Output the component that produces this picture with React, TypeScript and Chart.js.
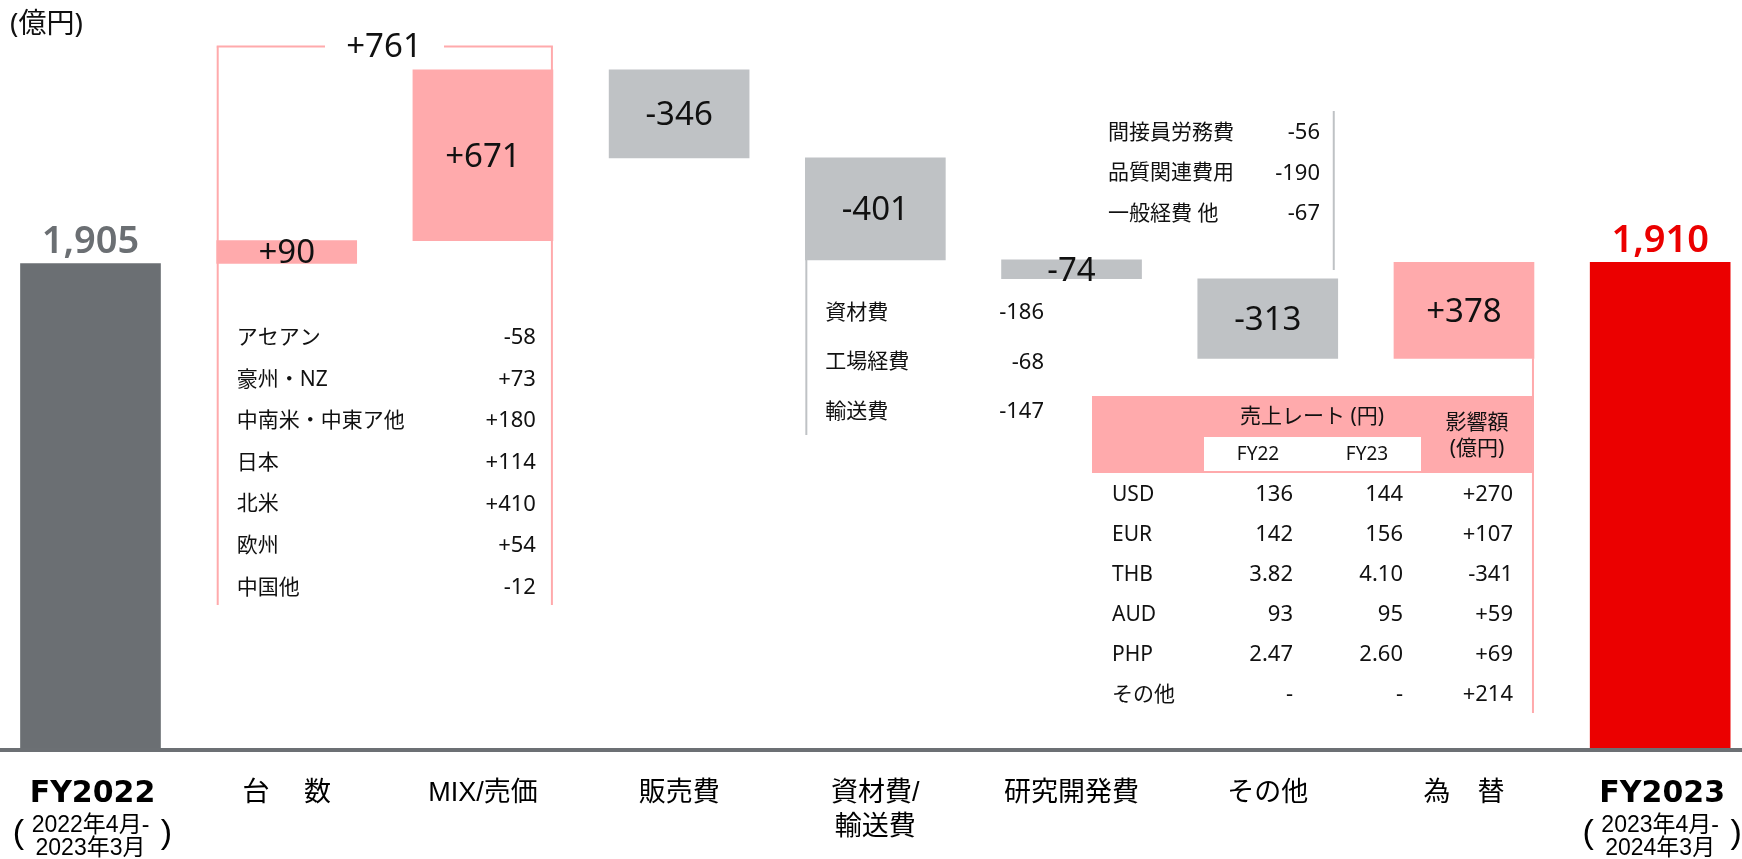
import { useEffect, useRef } from 'react';
import { Chart, registerables } from 'chart.js';

Chart.register(...registerables);

// ---- data ----
const categories = ['FY2022', '台　 数', 'MIX/売価', '販売費', '資材費/\n輸送費', '研究開発費', 'その他', '為　替', 'FY2023'];
const periodLabels = ['2022年4月-\n2023年3月', '', '', '', '', '', '', '', '2023年4月-\n2024年3月'];
const changes = [1905, 90, 671, -346, -401, -74, -313, 378, 1910];
const isTotal = [true, false, false, false, false, false, false, false, true];
const valueLabels = ['1,905', '+90', '+671', '-346', '-401', '-74', '-313', '+378', '1,910'];
const volumeMixTotal = '+761';

const volumeItems = ['アセアン', '豪州・NZ', '中南米・中東ア他', '日本', '北米', '欧州', '中国他'];
const volumeValues = ['-58', '+73', '+180', '+114', '+410', '+54', '-12'];

const materialItems = ['資材費', '工場経費', '輸送費'];
const materialValues = ['-186', '-68', '-147'];

const otherItems = ['間接員労務費', '品質関連費用', '一般経費 他'];
const otherValues = ['-56', '-190', '-67'];

const fxCurrencies = ['USD', 'EUR', 'THB', 'AUD', 'PHP', 'その他'];
const fxRateFY22 = ['136', '142', '3.82', '93', '2.47', '-'];
const fxRateFY23 = ['144', '156', '4.10', '95', '2.60', '-'];
const fxImpact = ['+270', '+107', '-341', '+59', '+69', '+214'];

// ---- styles ----
const C_TOTAL_START = '#6b6f73';
const C_TOTAL_END = '#eb0000';
const C_POS = '#ffaaac';
const C_NEG = '#bfc2c5';
const SANS = '"Noto Sans", "Noto Sans CJK JP", sans-serif';
const NARROW = '"Liberation Sans Narrow", "Liberation Sans", "Noto Sans CJK JP", sans-serif';
const TXT = '#111111';

function buildRanges(): number[][] {
  let run = 0;
  return changes.map((v, i) => {
    if (isTotal[i]) {
      run = v;
      return [0, v];
    }
    const lo = run;
    run += v;
    return [Math.min(lo, run), Math.max(lo, run)];
  });
}

function barColor(i: number): string {
  if (isTotal[i]) return i === 0 ? C_TOTAL_START : C_TOTAL_END;
  return changes[i] >= 0 ? C_POS : C_NEG;
}

function text(ctx: CanvasRenderingContext2D, s: string, x: number, y: number, font: string, color = TXT, align: CanvasTextAlign = 'center') {
  ctx.font = font;
  ctx.fillStyle = color;
  ctx.textAlign = align;
  ctx.textBaseline = 'middle';
  ctx.fillText(s, x, y);
}

function line(ctx: CanvasRenderingContext2D, x1: number, y1: number, x2: number, y2: number, color: string, w = 2) {
  ctx.beginPath();
  ctx.strokeStyle = color;
  ctx.lineWidth = w;
  ctx.moveTo(x1, y1);
  ctx.lineTo(x2, y2);
  ctx.stroke();
}

const annotations = {
  id: 'annotations',
  afterDraw(chart: any) {
    const ctx: CanvasRenderingContext2D = chart.ctx;
    const yS = chart.scales.y;
    const meta = chart.getDatasetMeta(0);
    const bars = meta.data as any[];
    const half = 70;
    ctx.save();

    // baseline
    const y0 = yS.getPixelForValue(0);
    ctx.fillStyle = '#6c7074';
    ctx.fillRect(0, y0, chart.width, 4);

    // unit
    text(ctx, '(億円)', 10, 25, `28px ${SANS}`, TXT, 'left');

    // bar value labels
    bars.forEach((b, i) => {
      const cy = (b.y + b.base) / 2;
      if (isTotal[i]) {
        text(ctx, valueLabels[i], b.x, b.y - 21, `600 38px ${SANS}`, i === 0 ? C_TOTAL_START : C_TOTAL_END);
      } else {
        text(ctx, valueLabels[i], b.x, cy + 2, `33px ${SANS}`, TXT);
      }
    });

    // category labels
    bars.forEach((b, i) => {
      if (isTotal[i]) {
        text(ctx, categories[i], b.x + 2, 794, `bold 30px "DejaVu Sans", ${SANS}`, '#000');
        const parts = periodLabels[i].split('\n');
        text(ctx, parts[0], b.x, 826, `23px ${NARROW}`, '#000');
        text(ctx, parts[1], b.x, 849, `23px ${NARROW}`, '#000');
        text(ctx, '(', b.x - 72, 834, `34px ${NARROW}`, '#000');
        text(ctx, ')', b.x + 76, 834, `34px ${NARROW}`, '#000');
      } else {
        const parts = categories[i].split('\n');
        parts.forEach((p, k) => text(ctx, p, b.x, 794 + k * 34, `27px ${NARROW}`, '#000'));
      }
    });

    // volume + mix bracket
    const bV = bars[1];
    const bM = bars[2];
    const lx = bV.x - half + 1;
    const rx = bM.x + half - 1;
    const topY = 46.5;
    const botY = 605;
    line(ctx, lx, topY, lx, botY, C_POS);
    line(ctx, rx, topY, rx, botY, C_POS);
    line(ctx, lx - 1, topY, 325, topY, C_POS);
    line(ctx, 444, topY, rx + 1, topY, C_POS);
    text(ctx, volumeMixTotal, 384, topY + 1, `33px ${SANS}`, TXT);

    volumeItems.forEach((s, k) => {
      const yy = 338 + k * 41.6;
      text(ctx, s, lx + 19, yy, `21px ${SANS}`, TXT, 'left');
      text(ctx, volumeValues[k], rx - 16, yy, `22px ${SANS}`, TXT, 'right');
    });

    // materials breakdown
    const bMat = bars[4];
    const mx = bMat.x - half + 1;
    line(ctx, mx, bMat.base, mx, 435, C_NEG);
    materialItems.forEach((s, k) => {
      const yy = 313 + k * 49.5;
      text(ctx, s, mx + 19, yy, `21px ${SANS}`, TXT, 'left');
      text(ctx, materialValues[k], 1044, yy, `22px ${SANS}`, TXT, 'right');
    });

    // other breakdown
    const bO = bars[6];
    const ox = bO.x + half - 4;
    line(ctx, ox, 111, ox, 270, C_NEG);
    otherItems.forEach((s, k) => {
      const yy = 133 + k * 40.5;
      text(ctx, s, 1108, yy, `21px ${SANS}`, TXT, 'left');
      text(ctx, otherValues[k], 1320, yy, `22px ${SANS}`, TXT, 'right');
    });

    // FX table
    const bF = bars[7];
    const fx = bF.x + half - 1;
    ctx.fillStyle = C_POS;
    ctx.fillRect(1092, 396, fx - 1092 + 1, 77);
    ctx.fillStyle = '#ffffff';
    ctx.fillRect(1204, 437, 217, 34);
    line(ctx, fx, bF.base, fx, 713, C_POS);
    text(ctx, '売上レート (円)', 1312, 417, `21px ${SANS}`, TXT);
    text(ctx, 'FY22', 1258, 455, `19px ${SANS}`, TXT);
    text(ctx, 'FY23', 1367, 455, `19px ${SANS}`, TXT);
    text(ctx, '影響額', 1477, 423, `21px ${SANS}`, TXT);
    text(ctx, '(億円)', 1477, 449, `21px ${SANS}`, TXT);
    fxCurrencies.forEach((c, k) => {
      const yy = 495 + k * 40;
      text(ctx, c, 1112, yy, `21px ${SANS}`, TXT, 'left');
      text(ctx, fxRateFY22[k], 1293, yy, `22px ${SANS}`, TXT, 'right');
      text(ctx, fxRateFY23[k], 1403, yy, `22px ${SANS}`, TXT, 'right');
      text(ctx, fxImpact[k], 1513, yy, `22px ${SANS}`, TXT, 'right');
    });

    ctx.restore();
  },
};

export default function App() {
  const ref = useRef<HTMLCanvasElement | null>(null);
  useEffect(() => {
    if (!ref.current) return;
    const ranges = buildRanges();
    const chart = new Chart(ref.current, {
      type: 'bar',
      data: {
        datasets: [
          {
            data: ranges.map((r, i) => ({ x: i, y: r })) as any,
            backgroundColor: changes.map((_, i) => barColor(i)),
            borderWidth: 0,
            barThickness: 140,
          },
        ],
      },
      options: {
        animation: false,
        responsive: false,
        devicePixelRatio: 1,
        layout: { padding: { top: 0, left: 0, right: 0, bottom: 111 } },
        scales: {
          x: { type: 'linear', min: -0.4612, max: 8.417, display: false, offset: false },
          y: { min: 0, max: 2941, display: false },
        },
        plugins: { legend: { display: false }, tooltip: { enabled: false } },
      },
      plugins: [annotations as any],
    });
    return () => chart.destroy();
  }, []);
  return (
    <div style={{ position: 'absolute', left: 0, top: 0, width: 1742, height: 859, background: '#fff' }}>
      <canvas ref={ref} width={1742} height={859} style={{ display: 'block' }} />
    </div>
  );
}
